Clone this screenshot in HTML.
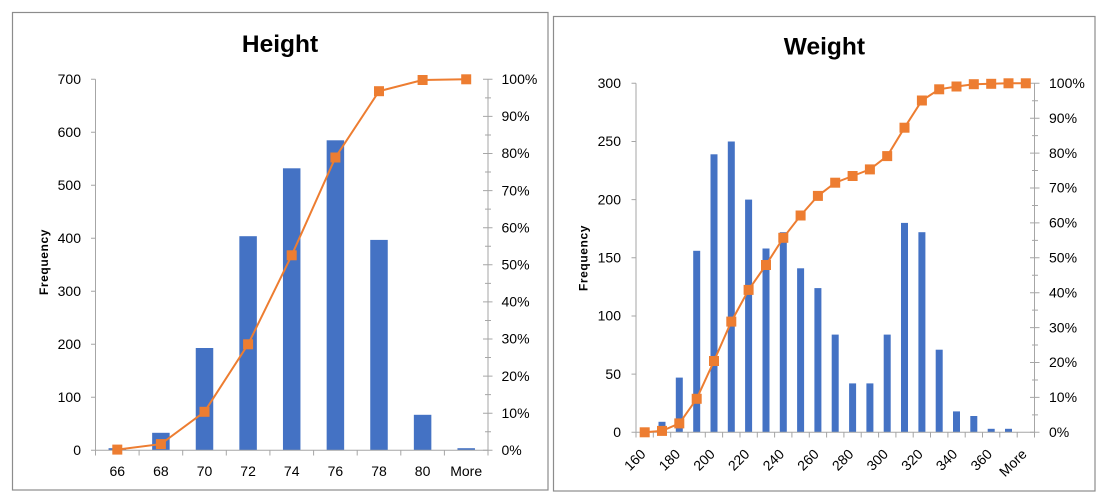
<!DOCTYPE html>
<html><head><meta charset="utf-8"><style>
html,body{margin:0;padding:0;background:#fff;}
svg{display:block;}
text{font-family:"Liberation Sans",Arial,sans-serif;fill:#000;}
.t{font-size:14px;}
.ti{font-size:24.5px;font-weight:bold;}
.f{font-size:12px;font-weight:bold;letter-spacing:0.6px;}
</style></head><body>
<svg width="1102" height="499" viewBox="0 0 1102 499" xmlns="http://www.w3.org/2000/svg">
<rect x="0" y="0" width="1102" height="499" fill="#fff"/>
<rect x="12.5" y="12.5" width="535.5" height="477.5" fill="none" stroke="#8c8c8c" stroke-width="1.2"/>
<rect x="553.5" y="16.5" width="541.5" height="474.5" fill="none" stroke="#8c8c8c" stroke-width="1.2"/>

<!-- ========== HEIGHT ========== -->
<text class="ti" x="280" y="52" text-anchor="middle">Height</text>
<text class="f" transform="translate(47.8,262) rotate(-90)" text-anchor="middle">Frequency</text>

<g fill="#4472C4">
<rect x="108.55" y="448.2" width="17.5" height="2.1"/>
<rect x="152.15" y="432.8" width="17.5" height="17.5"/>
<rect x="195.75" y="348.0" width="17.5" height="102.3"/>
<rect x="239.35" y="236.2" width="17.5" height="214.1"/>
<rect x="282.95" y="168.3" width="17.5" height="282.0"/>
<rect x="326.65" y="140.3" width="17.5" height="310.0"/>
<rect x="370.25" y="239.9" width="17.5" height="210.4"/>
<rect x="413.85" y="414.8" width="17.5" height="35.5"/>
<rect x="457.45" y="448.2" width="17.5" height="2.1"/>
</g>

<g stroke="#a6a6a6" stroke-width="1" fill="none">
<line x1="95.5" y1="79.3" x2="95.5" y2="450.3"/>
<line x1="95.5" y1="450.3" x2="488" y2="450.3"/>
<line x1="488" y1="79.3" x2="488" y2="450.3"/>
<path d="M91 450.3H95.5M91 397.3H95.5M91 344.3H95.5M91 291.3H95.5M91 238.3H95.5M91 185.3H95.5M91 132.3H95.5M91 79.3H95.5"/>
<path d="M95.5 450.3V455.5M139.1 450.3V455.5M182.7 450.3V455.5M226.3 450.3V455.5M269.9 450.3V455.5M313.6 450.3V455.5M357.2 450.3V455.5M400.8 450.3V455.5M444.4 450.3V455.5M488 450.3V455.5"/>
<path d="M483 450.3H492.5M483 413.2H492.5M483 376.1H492.5M483 339.0H492.5M483 301.9H492.5M483 264.8H492.5M483 227.7H492.5M483 190.6H492.5M483 153.5H492.5M483 116.4H492.5M483 79.3H492.5"/>
<path d="M485 431.75H491M485 394.65H491M485 357.55H491M485 320.45H491M485 283.35H491M485 246.25H491M485 209.15H491M485 172.05H491M485 134.95H491M485 97.85H491"/>
</g>

<g class="t" text-anchor="end">
<text x="81" y="455">0</text>
<text x="81" y="402">100</text>
<text x="81" y="349">200</text>
<text x="81" y="296">300</text>
<text x="81" y="243">400</text>
<text x="81" y="190">500</text>
<text x="81" y="137">600</text>
<text x="81" y="84">700</text>
</g>
<g class="t">
<text x="501.5" y="455">0%</text>
<text x="501.5" y="417.9">10%</text>
<text x="501.5" y="380.8">20%</text>
<text x="501.5" y="343.7">30%</text>
<text x="501.5" y="306.6">40%</text>
<text x="501.5" y="269.5">50%</text>
<text x="501.5" y="232.4">60%</text>
<text x="501.5" y="195.3">70%</text>
<text x="501.5" y="158.2">80%</text>
<text x="501.5" y="121.1">90%</text>
<text x="501.5" y="84">100%</text>
</g>
<g class="t" text-anchor="middle">
<text x="117.3" y="476">66</text>
<text x="160.9" y="476">68</text>
<text x="204.5" y="476">70</text>
<text x="248.1" y="476">72</text>
<text x="291.7" y="476">74</text>
<text x="335.4" y="476">76</text>
<text x="379.0" y="476">78</text>
<text x="422.6" y="476">80</text>
<text x="466.2" y="476">More</text>
</g>

<polyline fill="none" stroke="#ED7D31" stroke-width="2" points="117.3,449.6 160.9,444.1 204.5,411.8 248.1,344.3 291.7,255.3 335.4,157.5 379.0,91.2 422.6,80.0 466.2,79.3"/>
<g fill="#ED7D31">
<rect x="112.3" y="444.6" width="10" height="10"/>
<rect x="155.9" y="439.1" width="10" height="10"/>
<rect x="199.5" y="406.8" width="10" height="10"/>
<rect x="243.1" y="339.3" width="10" height="10"/>
<rect x="286.7" y="250.3" width="10" height="10"/>
<rect x="330.4" y="152.5" width="10" height="10"/>
<rect x="374.0" y="86.2" width="10" height="10"/>
<rect x="417.6" y="75.0" width="10" height="10"/>
<rect x="461.2" y="74.3" width="10" height="10"/>
</g>

<!-- ========== WEIGHT ========== -->
<text class="ti" x="824.4" y="54.5" text-anchor="middle">Weight</text>
<text class="f" transform="translate(587.5,258) rotate(-90)" text-anchor="middle">Frequency</text>

<g fill="#4472C4">
<rect x="658.5" y="421.8" width="7" height="10.5"/>
<rect x="675.8" y="377.6" width="7" height="54.7"/>
<rect x="693.2" y="250.8" width="7" height="181.5"/>
<rect x="710.5" y="154.3" width="7" height="278.0"/>
<rect x="727.8" y="141.5" width="7" height="290.8"/>
<rect x="745.1" y="199.6" width="7" height="232.7"/>
<rect x="762.5" y="248.5" width="7" height="183.8"/>
<rect x="779.8" y="232.2" width="7" height="200.1"/>
<rect x="797.1" y="268.3" width="7" height="164.0"/>
<rect x="814.4" y="288.1" width="7" height="144.2"/>
<rect x="831.7" y="334.6" width="7" height="97.7"/>
<rect x="849.1" y="383.4" width="7" height="48.9"/>
<rect x="866.4" y="383.4" width="7" height="48.9"/>
<rect x="883.7" y="334.6" width="7" height="97.7"/>
<rect x="901.0" y="222.9" width="7" height="209.4"/>
<rect x="918.4" y="232.2" width="7" height="200.1"/>
<rect x="935.7" y="349.7" width="7" height="82.6"/>
<rect x="953.0" y="411.4" width="7" height="20.9"/>
<rect x="970.3" y="416.0" width="7" height="16.3"/>
<rect x="987.7" y="428.8" width="7" height="3.5"/>
<rect x="1005.0" y="428.8" width="7" height="3.5"/>
</g>

<g stroke="#a6a6a6" stroke-width="1" fill="none">
<line x1="636" y1="83.3" x2="636" y2="432.3"/>
<line x1="636" y1="432.3" x2="1034.5" y2="432.3"/>
<line x1="1034.5" y1="83.3" x2="1034.5" y2="432.3"/>
<path d="M631.5 432.3H636M631.5 374.1H636M631.5 316.0H636M631.5 257.8H636M631.5 199.6H636M631.5 141.5H636M631.5 83.3H636"/>
<path d="M636 432.3V437.5M653.3 432.3V437.5M670.7 432.3V437.5M688 432.3V437.5M705.3 432.3V437.5M722.6 432.3V437.5M740 432.3V437.5M757.3 432.3V437.5M774.6 432.3V437.5M791.9 432.3V437.5M809.3 432.3V437.5M826.6 432.3V437.5M843.9 432.3V437.5M861.2 432.3V437.5M878.6 432.3V437.5M895.9 432.3V437.5M913.2 432.3V437.5M930.5 432.3V437.5M947.9 432.3V437.5M965.2 432.3V437.5M982.5 432.3V437.5M999.8 432.3V437.5M1017.2 432.3V437.5M1034.5 432.3V437.5"/>
<path d="M1030 432.3H1039.5M1030 397.4H1039.5M1030 362.5H1039.5M1030 327.6H1039.5M1030 292.7H1039.5M1030 257.8H1039.5M1030 222.9H1039.5M1030 188.0H1039.5M1030 153.1H1039.5M1030 118.2H1039.5M1030 83.3H1039.5"/>
<path d="M1032 414.85H1038M1032 379.95H1038M1032 345.05H1038M1032 310.15H1038M1032 275.25H1038M1032 240.35H1038M1032 205.45H1038M1032 170.55H1038M1032 135.65H1038M1032 100.75H1038"/>
</g>

<g class="t" text-anchor="end">
<text x="621" y="437">0</text>
<text x="621" y="378.8">50</text>
<text x="621" y="320.7">100</text>
<text x="621" y="262.5">150</text>
<text x="621" y="204.3">200</text>
<text x="621" y="146.2">250</text>
<text x="621" y="88">300</text>
</g>
<g class="t">
<text x="1049" y="437">0%</text>
<text x="1049" y="402.1">10%</text>
<text x="1049" y="367.2">20%</text>
<text x="1049" y="332.3">30%</text>
<text x="1049" y="297.4">40%</text>
<text x="1049" y="262.5">50%</text>
<text x="1049" y="227.6">60%</text>
<text x="1049" y="192.7">70%</text>
<text x="1049" y="157.8">80%</text>
<text x="1049" y="122.9">90%</text>
<text x="1049" y="88">100%</text>
</g>
<g class="t" text-anchor="end">
<text transform="translate(646.5,455) rotate(-45)">160</text>
<text transform="translate(681.1,455) rotate(-45)">180</text>
<text transform="translate(715.8,455) rotate(-45)">200</text>
<text transform="translate(750.4,455) rotate(-45)">220</text>
<text transform="translate(785.1,455) rotate(-45)">240</text>
<text transform="translate(819.7,455) rotate(-45)">260</text>
<text transform="translate(854.4,455) rotate(-45)">280</text>
<text transform="translate(889.0,455) rotate(-45)">300</text>
<text transform="translate(923.7,455) rotate(-45)">320</text>
<text transform="translate(958.3,455) rotate(-45)">340</text>
<text transform="translate(993.0,455) rotate(-45)">360</text>
<text transform="translate(1027.6,455) rotate(-45)">More</text>
</g>

<polyline fill="none" stroke="#ED7D31" stroke-width="2" points="644.7,432.3 662.0,430.9 679.3,423.4 696.7,398.8 714.0,361.0 731.3,321.6 748.6,289.9 766.0,265.0 783.3,237.8 800.6,215.5 817.9,195.9 835.2,182.7 852.6,176.0 869.9,169.4 887.2,156.1 904.5,127.7 921.9,100.5 939.2,89.3 956.5,86.5 973.8,84.2 991.2,83.8 1008.5,83.3 1025.8,83.3"/>
<g fill="#ED7D31">
<rect x="639.7" y="427.3" width="10" height="10"/>
<rect x="657.0" y="425.9" width="10" height="10"/>
<rect x="674.3" y="418.4" width="10" height="10"/>
<rect x="691.7" y="393.8" width="10" height="10"/>
<rect x="709.0" y="356.0" width="10" height="10"/>
<rect x="726.3" y="316.6" width="10" height="10"/>
<rect x="743.6" y="284.9" width="10" height="10"/>
<rect x="761.0" y="260.0" width="10" height="10"/>
<rect x="778.3" y="232.8" width="10" height="10"/>
<rect x="795.6" y="210.5" width="10" height="10"/>
<rect x="812.9" y="190.9" width="10" height="10"/>
<rect x="830.2" y="177.7" width="10" height="10"/>
<rect x="847.6" y="171.0" width="10" height="10"/>
<rect x="864.9" y="164.4" width="10" height="10"/>
<rect x="882.2" y="151.1" width="10" height="10"/>
<rect x="899.5" y="122.7" width="10" height="10"/>
<rect x="916.9" y="95.5" width="10" height="10"/>
<rect x="934.2" y="84.3" width="10" height="10"/>
<rect x="951.5" y="81.5" width="10" height="10"/>
<rect x="968.8" y="79.2" width="10" height="10"/>
<rect x="986.2" y="78.8" width="10" height="10"/>
<rect x="1003.5" y="78.3" width="10" height="10"/>
<rect x="1020.8" y="78.3" width="10" height="10"/>
</g>
</svg>
</body></html>
